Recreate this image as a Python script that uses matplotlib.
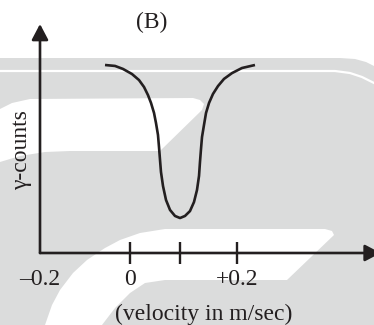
import matplotlib
matplotlib.use("Agg")
import matplotlib.pyplot as plt
from matplotlib.patches import Polygon

# ---- data ----
velocity = [-0.0467, -0.0280, -0.0131, 0.0037, 0.0168, 0.0262, 0.0336, 0.0393, 0.0449,
            0.0486, 0.0523, 0.0542, 0.0561, 0.0579, 0.0617, 0.0673, 0.0748, 0.0841,
            0.0935,
            0.1028, 0.1121, 0.1196, 0.1252, 0.1290, 0.1308, 0.1327, 0.1346, 0.1383,
            0.1421, 0.1477, 0.1551, 0.1645, 0.1757, 0.1907, 0.2093, 0.2336]
counts = [100.0, 99.5, 97.9, 95.2, 92.0, 88.3, 84.0, 79.8, 74.5,
          69.1, 62.8, 56.4, 49.5, 43.1, 35.6, 28.2, 22.9, 19.7,
          18.6,
          19.7, 22.3, 27.1, 33.5, 41.0, 48.4, 55.3, 61.7, 68.1,
          74.5, 79.8, 84.6, 88.8, 92.6, 95.7, 98.4, 100.0]
tick_values = [0.0, 0.0935, 0.2]
tick_labels = ["0", "", "+0.2"]
axis_origin_label = "–0.2"
title = "(B)"
xlabel = "(velocity in m/sec)"
ylabel = "γ-counts"

W, H = 374, 325
INK = "#231f20"
GRAY = "#dbdcdc"
FONT = "Liberation Serif"
FS = 17

fig = plt.figure(figsize=(W / 100, H / 100), dpi=100)

# ---- background watermark (pixel coordinates) ----
bg = fig.add_axes([0, 0, 1, 1])
bg.set_xlim(0, W)
bg.set_ylim(H, 0)
bg.axis("off")
gray_base = [(0, 58), (340, 58), (355, 59), (366, 62), (374, 66), (374, 325), (0, 325)]
bg.add_patch(Polygon(gray_base, closed=True, fc=GRAY, ec="none"))
bg.plot([0, 335, 350, 362, 374], [71, 71, 73, 77, 83], color="white", lw=1.6)
upper_white = [(0, 109), (12, 103), (30, 99), (193, 98), (200, 100), (204, 104), (202, 110),
               (160, 151), (70, 151), (45, 152), (20, 156), (0, 162)]
bg.add_patch(Polygon(upper_white, closed=True, fc="white", ec="none"))
lower_white = [(45, 325), (52, 305), (60, 290), (73, 273), (87, 260), (105, 248), (120, 240),
               (140, 233), (165, 229), (325, 229), (332, 231), (334, 235), (287, 280),
               (165, 280), (145, 283), (130, 293), (115, 308), (102, 325)]
bg.add_patch(Polygon(lower_white, closed=True, fc="white", ec="none"))

# ---- data axes ----
x_left = (40 - 130) / 535
x_right = (374 - 130) / 535
y_top = (253 - 24) / 1.88
ax = fig.add_axes([40 / W, (H - 253) / H, (W - 40) / W, (253 - 24) / H])
ax.patch.set_alpha(0)
ax.set_xlim(x_left, x_right)
ax.set_ylim(0, y_top)
for s in ax.spines.values():
    s.set_visible(False)

ax.plot(velocity, counts, color=INK, lw=1.9, solid_capstyle="butt", solid_joinstyle="round")

# axes arrows
arrow_kw = dict(arrowstyle="-|>,head_length=0.95,head_width=0.5", color=INK, lw=1.9,
                shrinkA=0, shrinkB=0, mutation_scale=10)
ax.annotate("", xy=(0, 1), xytext=(0, 0), xycoords="axes fraction",
            arrowprops=arrow_kw, annotation_clip=False)
ax.annotate("", xy=(1.02, 0), xytext=(0, 0), xycoords="axes fraction",
            arrowprops=arrow_kw, annotation_clip=False)

ax.set_xticks([x_left] + tick_values)
ax.set_xticklabels([axis_origin_label] + tick_labels, fontsize=FS, family=FONT, color=INK)
ax.tick_params(axis="x", direction="inout", length=16.5, width=1.7, color=INK, pad=3)
ax.xaxis.get_major_ticks()[0].tick1line.set_visible(False)
ax.set_yticks([])

ax.text(-0.054, 0.45, ylabel, transform=ax.transAxes, rotation=90, ha="center", va="center",
        fontsize=FS, family=FONT, color=INK)

fig.text(152 / W, 1 - 28 / H, title, ha="center", va="baseline", fontsize=FS,
         family=FONT, color=INK)
fig.text(204 / W, 1 - 320 / H, xlabel, ha="center", va="baseline", fontsize=FS,
         family=FONT, color=INK)

fig.savefig("out.png", dpi=100)
